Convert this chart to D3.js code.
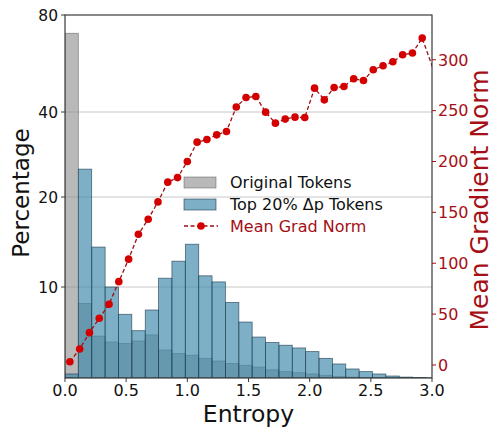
<!DOCTYPE html>
<html>
<head>
<meta charset="utf-8">
<script src="https://cdn.jsdelivr.net/npm/d3@7"></script>
<style>
  body { margin: 0; background: #fff; }
  svg { display: block; font-family: "DejaVu Sans", sans-serif; }
</style>
</head>
<body>
<div id="chart"></div>
<script>
// histogram bins (left edges, entropy), width 0.109
const binLefts = [0, 0.109, 0.219, 0.328, 0.437, 0.547, 0.656, 0.765, 0.874, 0.984,
    1.093, 1.202, 1.312, 1.421, 1.530, 1.640, 1.749, 1.858, 1.967, 2.077,
    2.186, 2.295, 2.405, 2.514, 2.623, 2.733, 2.842, 2.951];
const binWidth = 0.109;

// percentage of tokens per bin
const originalPct = [70.2, 8.2, 4.6, 3.96, 3.8, 4.07, 4.73, 3.08, 2.7, 2.5,
    2.16, 1.87, 1.6, 1.4, 1.2, 0.9, 0.7, 0.58, 0.44, 0.3,
    0.15, 0.1, 0.06, 0.04, 0.02, 0.01, 0.01, 0];
const topPct = [0.44, 25.1, 13.6, 10.0, 7.0, 5.2, 7.47, 10.7, 12.2, 13.9,
    10.9, 10.4, 8.3, 6.15, 4.5, 3.9, 3.6, 3.3, 2.9, 2.16,
    1.54, 0.99, 0.7, 0.44, 0.22, 0.1, 0.05, 0.02];

// mean gradient norm
const gradEntropy = [0.04, 0.12, 0.20, 0.28, 0.36, 0.44, 0.52, 0.60, 0.68, 0.76,
    0.84, 0.92, 1.00, 1.08, 1.16, 1.24, 1.32, 1.40, 1.48, 1.56,
    1.64, 1.72, 1.80, 1.88, 1.96, 2.04, 2.12, 2.20, 2.28, 2.36,
    2.44, 2.52, 2.60, 2.68, 2.76, 2.84, 2.92, 3.08];
const gradNorm = [3.2, 15.7, 31.8, 45.9, 59.7, 81.9, 104, 128.5, 143.3, 160.3,
    179.7, 184.2, 200, 219, 221.6, 226.2, 229.5, 253.5, 262.9, 263.9,
    248.5, 237.7, 241.7, 243.6, 243.2, 272.1, 260.6, 272.7, 273.7, 281.3,
    279.6, 290.2, 294.1, 298, 304.9, 306.6, 321.3, 267];

const xTicks = [0, 0.5, 1.0, 1.5, 2.0, 2.5, 3.0];
const leftTicks = [10, 20, 40, 80];
const rightTicks = [0, 50, 100, 150, 200, 250, 300];

const W = 493, H = 427;
const m = { left: 65, right: 432, top: 15, bottom: 378 };
const red = "#a50f15";

const svg = d3.select("#chart").append("svg")
    .attr("width", W)
    .attr("height", H);

const x = d3.scaleLinear().domain([0, 3]).range([m.left, m.right]);

// symlog-like: linear under 10, log2 above
const tf = v => v <= 10 ? v / 10 : 1 + Math.log2(v / 10);
const yT = d3.scaleLinear().domain([0, 1, 2, 3, 4]).range([m.bottom, 287, 197, 112, m.top]);
const y = v => yT(tf(v));

const yR = d3.scaleLinear().domain([-12.8, 344]).range([m.bottom, m.top]);

svg.append("clipPath").attr("id", "clip")
    .append("rect")
    .attr("x", m.left).attr("y", m.top)
    .attr("width", m.right - m.left).attr("height", m.bottom - m.top);

// grid
svg.append("g").selectAll("line")
    .data([10, 20, 40])
    .join("line")
    .attr("x1", m.left).attr("x2", m.right)
    .attr("y1", d => y(d)).attr("y2", d => y(d))
    .attr("stroke", "#c8c8c8")
    .attr("stroke-width", 1);

const plot = svg.append("g").attr("clip-path", "url(#clip)");

plot.append("g").selectAll("rect")
    .data(originalPct)
    .join("rect")
    .attr("x", (d, i) => x(binLefts[i]))
    .attr("width", (d, i) => x(binLefts[i] + binWidth) - x(binLefts[i]))
    .attr("y", d => y(d))
    .attr("height", d => m.bottom - y(d))
    .attr("fill", "#8a8a8a")
    .attr("fill-opacity", 0.6)
    .attr("stroke", "#555")
    .attr("stroke-opacity", 0.6)
    .attr("stroke-width", 0.8);

plot.append("g").selectAll("rect")
    .data(topPct)
    .join("rect")
    .attr("x", (d, i) => x(binLefts[i]))
    .attr("width", (d, i) => x(binLefts[i] + binWidth) - x(binLefts[i]))
    .attr("y", d => y(d))
    .attr("height", d => m.bottom - y(d))
    .attr("fill", "#3f89ab")
    .attr("fill-opacity", 0.68)
    .attr("stroke", "#1f3f50")
    .attr("stroke-opacity", 0.75)
    .attr("stroke-width", 0.8);

const pts = gradEntropy.map((e, i) => [e, gradNorm[i]]);
const line = d3.line().x(d => x(d[0])).y(d => yR(d[1]));

plot.append("path")
    .datum(pts)
    .attr("d", line)
    .attr("fill", "none")
    .attr("stroke", "#9b1010")
    .attr("stroke-width", 1.3)
    .attr("stroke-dasharray", "4,2.5");

plot.append("g").selectAll("circle")
    .data(pts)
    .join("circle")
    .attr("cx", d => x(d[0]))
    .attr("cy", d => yR(d[1]))
    .attr("r", 3.8)
    .attr("fill", "#d40000");

// frame
svg.append("rect")
    .attr("x", m.left).attr("y", m.top)
    .attr("width", m.right - m.left).attr("height", m.bottom - m.top)
    .attr("fill", "none")
    .attr("stroke", "#3a3a3a")
    .attr("stroke-width", 1.2);

// bottom axis
const xa = svg.append("g").attr("transform", `translate(0,${m.bottom})`);
xa.selectAll("line").data(xTicks).join("line")
    .attr("x1", d => x(d)).attr("x2", d => x(d))
    .attr("y1", 0).attr("y2", 4)
    .attr("stroke", "#3a3a3a");
xa.selectAll("text").data(xTicks).join("text")
    .attr("x", d => x(d)).attr("y", 18)
    .attr("text-anchor", "middle")
    .attr("font-size", 16)
    .attr("fill", "#111")
    .text(d3.format(".1f"));

// left axis
const ya = svg.append("g");
ya.selectAll("line").data(leftTicks).join("line")
    .attr("x1", m.left - 4).attr("x2", m.left)
    .attr("y1", d => y(d)).attr("y2", d => y(d))
    .attr("stroke", "#3a3a3a");
ya.selectAll("text").data(leftTicks).join("text")
    .attr("x", m.left - 7).attr("y", d => y(d))
    .attr("dy", "0.36em")
    .attr("text-anchor", "end")
    .attr("font-size", 15.5)
    .attr("fill", "#111")
    .text(d => d);

// right axis
const ra = svg.append("g");
ra.selectAll("line").data(rightTicks).join("line")
    .attr("x1", m.right).attr("x2", m.right + 4)
    .attr("y1", d => yR(d)).attr("y2", d => yR(d))
    .attr("stroke", red);
ra.selectAll("text").data(rightTicks).join("text")
    .attr("x", m.right + 6).attr("y", d => yR(d))
    .attr("dy", "0.36em")
    .attr("font-size", 16)
    .attr("fill", red)
    .text(d => d);

// axis titles
svg.append("text")
    .attr("x", x(1.5)).attr("y", 422)
    .attr("text-anchor", "middle")
    .attr("font-size", 23.5)
    .attr("fill", "#111")
    .text("Entropy");

svg.append("text")
    .attr("transform", "translate(29,193) rotate(-90)")
    .attr("text-anchor", "middle")
    .attr("font-size", 23)
    .attr("fill", "#111")
    .text("Percentage");

svg.append("text")
    .attr("transform", "translate(488,200) rotate(-90)")
    .attr("text-anchor", "middle")
    .attr("font-size", 25)
    .attr("fill", red)
    .text("Mean Gradient Norm");

// legend
const lg = svg.append("g").attr("transform", "translate(184,0)");
lg.append("rect").attr("x", 0).attr("y", 177).attr("width", 32).attr("height", 11)
    .attr("fill", "#8a8a8a").attr("fill-opacity", 0.6)
    .attr("stroke", "#555").attr("stroke-opacity", 0.6).attr("stroke-width", 0.8);
lg.append("text").attr("x", 46).attr("y", 187.5)
    .attr("font-size", 16).attr("fill", "#111").text("Original Tokens");
lg.append("rect").attr("x", 0).attr("y", 199).attr("width", 32).attr("height", 11)
    .attr("fill", "#3f89ab").attr("fill-opacity", 0.68)
    .attr("stroke", "#1f3f50").attr("stroke-opacity", 0.75).attr("stroke-width", 0.8);
lg.append("text").attr("x", 46).attr("y", 209.5)
    .attr("font-size", 16).attr("fill", "#111").text("Top 20% Δp Tokens");
lg.append("line").attr("x1", 0).attr("x2", 34).attr("y1", 226).attr("y2", 226)
    .attr("stroke", "#9b1010").attr("stroke-width", 1.3).attr("stroke-dasharray", "4,2.5");
lg.append("circle").attr("cx", 17).attr("cy", 226).attr("r", 3.8).attr("fill", "#d40000");
lg.append("text").attr("x", 46).attr("y", 231.5)
    .attr("font-size", 16).attr("fill", red).text("Mean Grad Norm");
</script>
</body>
</html>
